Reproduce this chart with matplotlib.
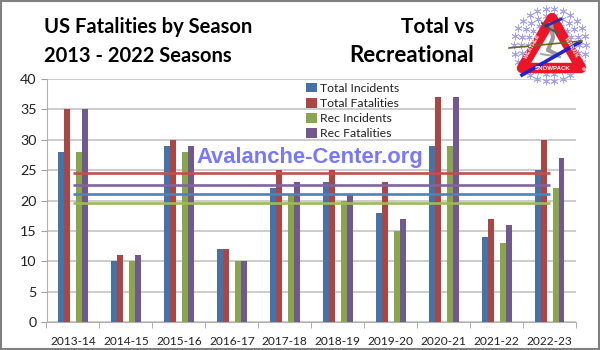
import numpy as np
from matplotlib import pyplot as plt
from matplotlib.patches import Circle, Polygon, Rectangle

seasons = ['2013-14', '2014-15', '2015-16', '2016-17', '2017-18',
           '2018-19', '2019-20', '2020-21', '2021-22', '2022-23']
total_incidents = [28, 10, 29, 12, 22, 23, 18, 29, 14, 25]
total_fatalities = [35, 11, 30, 12, 25, 25, 23, 37, 17, 30]
rec_incidents = [28, 10, 28, 10, 21, 20, 15, 29, 13, 22]
rec_fatalities = [35, 11, 29, 10, 23, 21, 17, 37, 16, 27]

avg_total_incidents = [21.0] * 10
avg_total_fatalities = [24.5] * 10
avg_rec_incidents = [19.6] * 10
avg_rec_fatalities = [22.6] * 10

BLUE = '#4572a7'
RED = '#aa4643'
GREEN = '#89a54e'
PURPLE = '#71588f'
TEXT_FONT = ['Lato', 'DejaVu Sans']


def draw_logo(ax):
    # snowflake ring, triangle and skier, all in image pixels
    cx, cy = 550, 45
    for radius, count, size in ((36, 26, 26), (29, 22, 24), (22, 18, 18)):
        for angle in np.radians(np.linspace(0, 360, count, endpoint=False)):
            ax.scatter(cx + radius * np.cos(angle), cy + radius * np.sin(angle), s=size,
                       marker=(6, 2, 0), color='#a3a3f2', linewidths=0.6)
    ax.add_patch(Polygon([(552, 18), (581, 68), (522, 68)], closed=True, facecolor='white',
                         edgecolor='#ee1526', linewidth=7.5, joinstyle='round'))
    ax.plot([551, 553, 548, 556], [24, 38, 50, 54], color='#9a9a9a', lw=3)
    ax.plot([542, 548, 558], [23, 28, 33], color='#555555', lw=1.5)
    ax.plot([546, 561], [26, 19], color='#2f2f9a', lw=2)
    ax.plot([541, 560], [54, 57], color='#aaaaaa', lw=1.5)
    ax.plot([522, 580], [75, 42], color='#2323c8', lw=2.6)
    ax.plot([509, 582], [48, 41], color='#6b6b1c', lw=1.2)
    ax.add_patch(Circle((584, 69), 1.2, color='#ffb0b0', zorder=5))
    ax.text(553, 68.5, 'SNOWPACK', color='white', fontsize=4.4, weight='bold',
            ha='center', va='center', family='Liberation Sans', zorder=6)
    ax.text(532, 47, 'WEATHER', color='white', fontsize=3.8, weight='bold', rotation=60,
            ha='center', va='center', family='Liberation Sans', zorder=6)
    ax.text(571, 47, 'TERRAIN', color='white', fontsize=3.8, weight='bold', rotation=-60,
            ha='center', va='center', family='Liberation Sans', zorder=6)


fig = plt.figure(figsize=(6, 3.5), dpi=100)
ax = fig.add_axes([46.5 / 600, 1 - 322 / 350, (576 - 46.5) / 600, (322 - 79) / 350])

x = np.arange(len(seasons))
width = 0.113
offsets = [-2.0 * width, -1.0 * width, 1.0 * width, 2.0 * width]
series = [(total_incidents, BLUE, 'Total Incidents'),
          (total_fatalities, RED, 'Total Fatalities'),
          (rec_incidents, GREEN, 'Rec Incidents'),
          (rec_fatalities, PURPLE, 'Rec Fatalities')]
for (values, color, label), offset in zip(series, offsets):
    ax.bar(x + offset, values, width, color=color, label=label, zorder=3)

for values, color in ((avg_total_fatalities, '#c0504d'), (avg_rec_fatalities, '#8064a2'),
                      (avg_total_incidents, '#4f81bd'), (avg_rec_incidents, '#9bbb59')):
    ax.plot(x, values, color=color, lw=1.9, zorder=4, solid_capstyle='butt')

ax.set_xlim(-0.5, 9.5)
ax.set_ylim(0, 40)
ax.set_yticks(range(0, 41, 5))
ax.set_xticks(x, seasons)
ax.set_xticks(np.arange(-0.5, 10), minor=True)
ax.grid(axis='y', color='#c4c4c4', lw=1.2, zorder=0)
ax.set_axisbelow(True)
for side in ('top', 'right'):
    ax.spines[side].set_visible(False)
ax.spines['left'].set_color('#b0b0b0')
ax.spines['bottom'].set_color('#b0b0b0')
ax.tick_params(axis='x', which='major', length=0, labelsize=8.6, pad=10, labelcolor='#222222')
ax.tick_params(axis='x', which='minor', length=4, color='#a0a0a0')
ax.tick_params(axis='y', length=4, color='#a0a0a0', labelsize=10.3, pad=3, labelcolor='#222222')
for label in ax.get_xticklabels() + ax.get_yticklabels():
    label.set_family(TEXT_FONT)

handles, labels = ax.get_legend_handles_labels()
ax.legend(handles, labels, loc='upper left', bbox_to_anchor=(0.478, 1.01), frameon=False,
          prop={'family': TEXT_FONT, 'size': 8.8}, handlelength=0.9, handleheight=0.85,
          handletextpad=0.3, labelspacing=0.33, borderpad=0, labelcolor='#222222')

# overlay in image pixels for titles, watermark, logo and border
over = fig.add_axes([0, 0, 1, 1], facecolor='none')
over.set_xlim(0, 600)
over.set_ylim(350, 0)
over.axis('off')
over.text(44, 27, 'US Fatalities by Season', fontsize=14.5, weight='bold', family=TEXT_FONT, va='center')
over.text(44, 56, '2013 - 2022 Seasons', fontsize=14.5, weight='bold', family=TEXT_FONT, va='center')
over.text(474.5, 27, 'Total vs', fontsize=15, weight='bold', family=TEXT_FONT, va='center', ha='right')
over.text(474, 56, 'Recreational', fontsize=16, weight='bold', family=TEXT_FONT, va='center', ha='right')
over.text(196, 158, 'Avalanche-Center.org', fontsize=15.8, weight='bold', color='#7777ff',
          family='Liberation Sans', va='center')
draw_logo(over)
over.add_patch(Rectangle((1, 1), 598, 348, facecolor='none', edgecolor='#808080', linewidth=1.5))

fig.savefig('out.png', dpi=100)
